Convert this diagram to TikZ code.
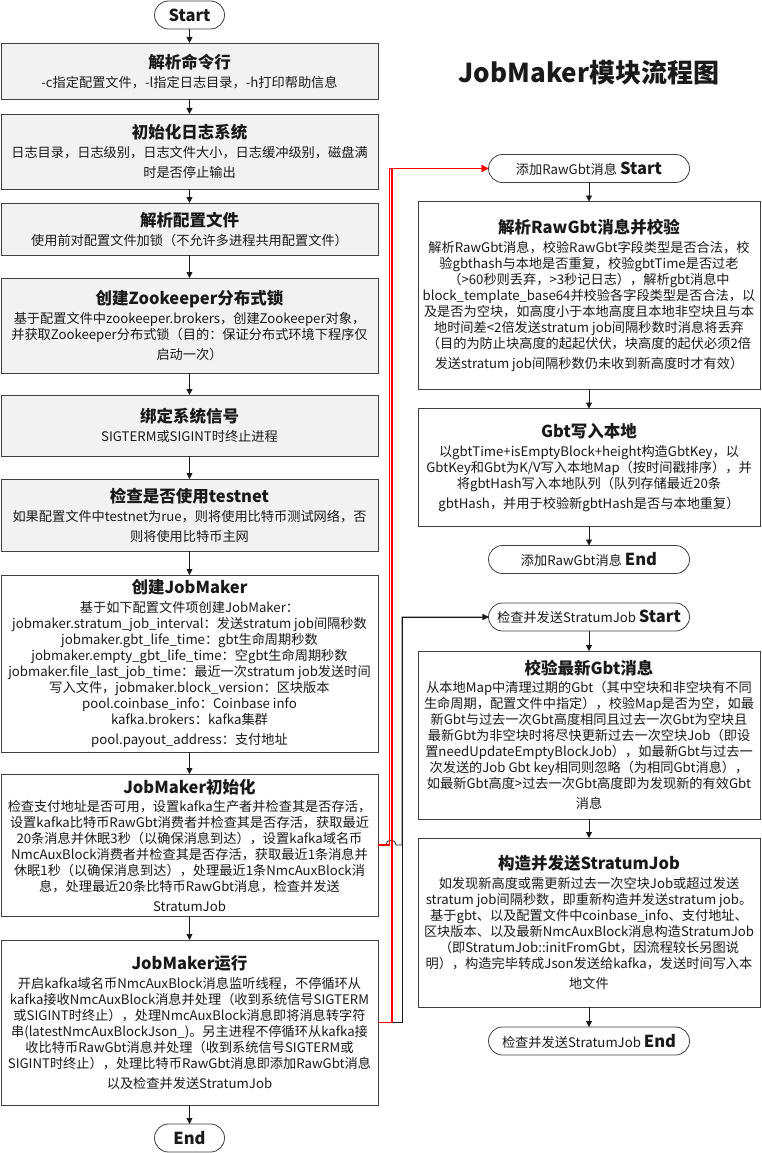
\documentclass[tikz,border=0pt]{standalone}
\usepackage{fontspec}
\setmainfont{Noto Sans CJK SC}
\usetikzlibrary{arrows.meta,positioning}
\definecolor{ink}{HTML}{1A1A1A}
\definecolor{edge}{HTML}{3F3F3F}
\definecolor{panel}{HTML}{F2F2F2}
\definecolor{signalred}{HTML}{FF0000}
\newcommand{\bodyfont}{\fontsize{13.2}{16}\selectfont}
\newcommand{\headfont}{\fontsize{16.5}{19}\selectfont\bfseries}
\tikzset{
  flow/.style={-{Triangle[length=6pt,width=6pt]}, line width=0.8pt, draw=ink},
  redflow/.style={-{Triangle[length=7pt,width=7pt]}, line width=1.4pt, draw=signalred},
  block/.style={
    draw=edge,
    line width=0.8pt,
    fill=white,
    align=center,
    inner xsep=2pt,
    inner ysep=2pt,
    outer sep=0pt,
    text=ink,
    font=\bodyfont
  },
  leftblock/.style={block, minimum width=377pt},
  greyblock/.style={leftblock, fill=panel},
  rightblock/.style={block, minimum width=342pt},
  terminal/.style={
    draw=edge,
    line width=0.8pt,
    fill=white,
    rounded corners=14pt,
    minimum height=28pt,
    inner ysep=0pt,
    outer sep=0pt,
    text=ink,
    font=\bodyfont
  }
}

\begin{document}
\begin{tikzpicture}[x=1pt, y=1pt, node distance=14pt]
  \useasboundingbox (0,0) rectangle (761,-1153);

  % main flow
  \node[terminal, minimum width=70pt] (start) at (189.5,-15) {\headfont Start};
  \node[greyblock, minimum height=56pt, below=14pt of start] (cmdline) {
    {\headfont 解析命令行}\\[3pt]
    -c指定配置文件，-l指定日志目录，-h打印帮助信息};
  \node[greyblock, minimum height=75pt, below=15pt of cmdline] (logsys) {
    {\headfont 初始化日志系统}\\[3pt]
    日志目录，日志级别，日志文件大小，日志缓冲级别，磁盘满\\[4pt]
    时是否停止输出};
  \node[greyblock, minimum height=52pt, below=14pt of logsys] (conffile) {
    {\headfont 解析配置文件}\\[3pt]
    使用前对配置文件加锁（不允许多进程共用配置文件）};
  \node[greyblock, minimum height=95pt, below=23pt of conffile] (zklock) {
    {\headfont 创建Zookeeper分布式锁}\\[3pt]
    基于配置文件中zookeeper.brokers，创建Zookeeper对象，\\
    并获取Zookeeper分布式锁（目的：保证分布式环境下程序仅\\[4pt]
    启动一次）};
  \node[greyblock, minimum height=61pt, below=22pt of zklock] (sighook) {
    {\headfont 绑定系统信号}\\[3pt]
    SIGTERM或SIGINT时终止进程};
  \node[greyblock, minimum height=72pt, below=23pt of sighook] (testnet) {
    {\headfont 检查是否使用testnet}\\[3pt]
    如果配置文件中testnet为rue，则将使用比特币测试网络，否\\[4pt]
    则将使用比特币主网};
  \node[leftblock, minimum height=177pt, below=24pt of testnet] (create) {
    {\headfont 创建JobMaker}\\[3pt]
    基于如下配置文件项创建JobMaker：\\
    jobmaker.stratum\_job\_interval：发送stratum job间隔秒数\\
    jobmaker.gbt\_life\_time：gbt生命周期秒数\\
    jobmaker.empty\_gbt\_life\_time：空gbt生命周期秒数\\
    jobmaker.file\_last\_job\_time：最近一次stratum job发送时间\\
    写入文件，jobmaker.block\_version：区块版本\\
    pool.coinbase\_info：Coinbase info\\
    kafka.brokers：kafka集群\\[4pt]
    pool.payout\_address：支付地址};
  \node[leftblock, minimum height=142pt, below=22pt of create] (init) {
    {\headfont JobMaker初始化}\\[2pt]
    检查支付地址是否可用，设置kafka生产者并检查其是否存活，\\
    设置kafka比特币RawGbt消费者并检查其是否存活，获取最近\\
    20条消息并休眠3秒（以确保消息到达），设置kafka域名币\\
    NmcAuxBlock消费者并检查其是否存活，获取最近1条消息并\\
    休眠1秒（以确保消息到达），处理最近1条NmcAuxBlock消\\
    息，处理最近20条比特币RawGbt消息，检查并发送\\[4pt]
    StratumJob};
  \node[leftblock, minimum height=165pt, below=24pt of init] (run) {
    {\headfont JobMaker运行}\\[3pt]
    开启kafka域名币NmcAuxBlock消息监听线程，不停循环从\\
    kafka接收NmcAuxBlock消息并处理（收到系统信号SIGTERM\\
    或SIGINT时终止），处理NmcAuxBlock消息即将消息转字符\\
    串(latestNmcAuxBlockJson\_)。另主进程不停循环从kafka接\\
    收比特币RawGbt消息并处理（收到系统信号SIGTERM或\\
    SIGINT时终止），处理比特币RawGbt消息即添加RawGbt消息\\[4pt]
    以及检查并发送StratumJob};
  \node[terminal, minimum width=70pt, below=19pt of run] (end) {\headfont End};

  \draw[flow] (start) -- (cmdline);
  \draw[flow] (cmdline) -- (logsys);
  \draw[flow] (logsys) -- (conffile);
  \draw[flow] (conffile) -- (zklock);
  \draw[flow] (zklock) -- (sighook);
  \draw[flow] (sighook) -- (testnet);
  \draw[flow] (testnet) -- (create);
  \draw[flow] (create) -- (init);
  \draw[flow] (init) -- (run);
  \draw[flow] (run) -- (end);

  \node[font=\fontsize{26}{30}\selectfont\bfseries, text=ink] (title) at (589,-73)
    {JobMaker模块流程图};

  % add RawGbt
  \node[terminal, minimum width=201pt] (addstart) at (589,-168.5)
    {添加RawGbt消息 {\headfont Start}};
  \node[rightblock, minimum height=188pt, below=19pt of addstart] (parsegbt) {
    {\headfont 解析RawGbt消息并校验}\\[3pt]
    解析RawGbt消息，校验RawGbt字段类型是否合法，校\\
    验gbthash与本地是否重复，校验gbtTime是否过老\\
    （>60秒则丢弃，>3秒记日志），解析gbt消息中\\
    block\_template\_base64并校验各字段类型是否合法，以\\
    及是否为空块，如高度小于本地高度且本地非空块且与本\\
    地时间差<2倍发送stratum job间隔秒数时消息将丢弃\\
    （目的为防止块高度的起起伏伏，块高度的起伏必须2倍\\[4pt]
    发送stratum job间隔秒数仍未收到新高度时才有效）};
  \node[rightblock, minimum height=118pt, below=19pt of parsegbt] (storegbt) {
    {\headfont Gbt写入本地}\\[3pt]
    以gbtTime+isEmptyBlock+height构造GbtKey，以\\
    GbtKey和Gbt为K/V写入本地Map（按时间戳排序），并\\
    将gbtHash写入本地队列（队列存储最近20条\\[4pt]
    gbtHash，并用于校验新gbtHash是否与本地重复）};
  \node[terminal, minimum width=201pt, below=19pt of storegbt] (addend)
    {添加RawGbt消息 {\headfont End}};

  \draw[flow] (addstart) -- (parsegbt);
  \draw[flow] (parsegbt) -- (storegbt);
  \draw[flow] (storegbt) -- (addend);

  % check and send StratumJob
  \node[terminal, minimum width=201pt] (chkstart) at (589,-617)
    {检查并发送StratumJob {\headfont Start}};
  \node[rightblock, minimum height=168pt, below=20pt of chkstart] (checkgbt) {
    {\headfont 校验最新Gbt消息}\\[2pt]
    从本地Map中清理过期的Gbt（其中空块和非空块有不同\\
    生命周期，配置文件中指定），校验Map是否为空，如最\\
    新Gbt与过去一次Gbt高度相同且过去一次Gbt为空块且\\
    最新Gbt为非空块时将尽快更新过去一次空块Job（即设\\
    置needUpdateEmptyBlockJob），如最新Gbt与过去一\\
    次发送的Job Gbt key相同则忽略（为相同Gbt消息），\\
    如最新Gbt高度>过去一次Gbt高度即为发现新的有效Gbt\\[4pt]
    消息};
  \node[rightblock, minimum height=169pt, below=19pt of checkgbt] (buildjob) {
    {\headfont 构造并发送StratumJob}\\[3pt]
    如发现新高度或需更新过去一次空块Job或超过发送\\
    stratum job间隔秒数，即重新构造并发送stratum job。\\
    基于gbt、以及配置文件中coinbase\_info、支付地址、\\
    区块版本、以及最新NmcAuxBlock消息构造StratumJob\\
    （即StratumJob::initFromGbt，因流程较长另图说\\
    明），构造完毕转成Json发送给kafka，发送时间写入本\\[4pt]
    地文件};
  \node[terminal, minimum width=201pt, below=20pt of buildjob] (chkend)
    {检查并发送StratumJob {\headfont End}};

  \draw[flow] (chkstart) -- (checkgbt);
  \draw[flow] (checkgbt) -- (buildjob);
  \draw[flow] (buildjob) -- (chkend);

  % calls from the main flow
  \coordinate (redbus) at (391,0);
  \coordinate (blackbus) at (402,0);
  \draw[flow] (init.east) -- ([xshift=-5pt]init.east -| redbus)
    arc[start angle=180, end angle=0, radius=5pt] -- (init.east -| blackbus) |- (chkstart.west);
  \draw[flow] (run.east) -- (run.east -| blackbus) |- (chkstart.west);
  \draw[redflow] (init.east) -- ([xshift=-1.5pt]init.east -| redbus) |- (addstart.west);
  \draw[redflow] (run.east) -- ([xshift=1pt]run.east -| redbus) |- (addstart.west);
\end{tikzpicture}
\end{document}
